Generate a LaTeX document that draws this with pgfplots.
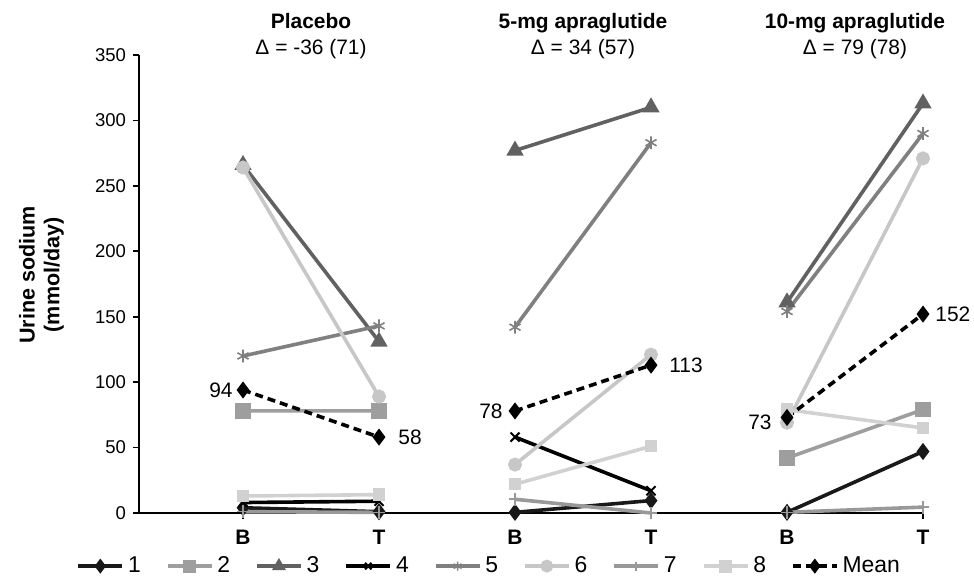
\documentclass[border=0pt]{standalone}
\usepackage{pgfplots}
\pgfplotsset{compat=1.18}
\usepackage{fontspec}
\setmainfont{Liberation Sans}
\definecolor{c1}{gray}{0.1}
\definecolor{c2}{gray}{0.62}
\definecolor{c3}{gray}{0.38}
\definecolor{c4}{gray}{0.0}
\definecolor{c5}{gray}{0.5}
\definecolor{c6}{gray}{0.78}
\definecolor{c7}{gray}{0.6}
\definecolor{c8}{gray}{0.82}
\begin{document}
\begin{tikzpicture}
\path[use as bounding box] (-69.5bp,-33bp) rectangle (417.5bp,256.5bp);
\begin{axis}[
  at={(0,0)}, anchor=south west,
  scale only axis, width=392bp, height=229bp,
  xmin=-0.765, xmax=5, ymin=0, ymax=350,
  axis x line*=bottom, axis y line*=left,
  axis line style={line width=1.2bp},
  xtick={0,...,5}, xticklabels={B,T,B,T,B,T},
  xticklabel style={font=\bfseries\fontsize{10.5}{12}\selectfont, yshift=-2bp},
  ytick={0,50,...,350},
  yticklabel style={font=\fontsize{9.3}{11}\selectfont},
  /pgf/number format/assume math mode=true,
  tick align=outside, major tick length=3bp,
  tick style={line width=0.8bp, black},
  clip=false, unbounded coords=jump,
  every axis plot/.append style={line width=1.8bp},
  ylabel={Urine sodium\\(mmol/day)},
  every axis y label/.style={at={(axis description cs:-0.1245,0.52)}, rotate=90, anchor=center, align=center, font=\bfseries\fontsize{10.8}{12.5}\selectfont},
  legend columns=9,
  legend style={at={(axis description cs:0.448,-0.116)}, anchor=center, draw=none, fill=none,
    font=\fontsize{11.5}{13}\selectfont,
    /tikz/every even column/.append style={column sep=10.5bp}},
  legend image code/.code={\draw[mark repeat=2,mark phase=2,#1,mark size=2.3bp] plot coordinates {(0bp,0bp)(11bp,0bp)(22bp,0bp)};},
]
\addplot[c1, mark=diamond*, mark size=2.8bp] coordinates {(0,4)(1,1)(1.5,nan)(2,0.5)(3,9.5)(3.5,nan)(4,0.5)(5,47)};
\addlegendentry{1}
\addplot[c2, mark=square*, mark size=3bp] coordinates {(0,78)(1,78)(3.5,nan)(4,42)(5,79)};
\addlegendentry{2}
\addplot[c3, mark=triangle*, mark size=3.2bp] coordinates {(0,266)(1,131)(1.5,nan)(2,277)(3,310)(3.5,nan)(4,161)(5,313)};
\addlegendentry{3}
\addplot[c4, mark=x, mark size=3.2bp, mark options={line width=1bp}] coordinates {(0,8)(1,9)(1.5,nan)(2,58)(3,17)};
\addlegendentry{4}
\addplot[c5, mark=asterisk, mark size=3.2bp, mark options={line width=0.8bp}] coordinates {(0,120)(1,143)(1.5,nan)(2,142)(3,283)(3.5,nan)(4,154)(5,290)};
\addlegendentry{5}
\addplot[c6, mark=*, mark size=2.6bp] coordinates {(0,264)(1,89)(1.5,nan)(2,37)(3,121)(3.5,nan)(4,69)(5,271)};
\addlegendentry{6}
\addplot[c7, mark=+, mark size=3.2bp, mark options={line width=0.8bp}] coordinates {(0,1)(1,0.5)(1.5,nan)(2,10.5)(3,0)(3.5,nan)(4,0.5)(5,4.5)};
\addlegendentry{7}
\addplot[c8, mark=square*, mark size=2.2bp] coordinates {(0,13)(1,14)(1.5,nan)(2,22)(3,51)(3.5,nan)(4,79)(5,65)};
\addlegendentry{8}
\addplot[black, dashed, dash pattern=on 4bp off 2.5bp, mark=diamond*, mark size=2.8bp, mark options={solid}] coordinates {(0,94)(1,58)(1.5,nan)(2,78)(3,113)(3.5,nan)(4,73)(5,152)};
\addlegendentry{Mean}
% mean labels
\node[anchor=east, inner sep=0pt, xshift=-5bp, font=\fontsize{10.5}{12}\selectfont] at (axis cs:0,94) {94};
\node[anchor=west, inner sep=0pt, xshift=9.5bp, font=\fontsize{10.5}{12}\selectfont] at (axis cs:1,58) {58};
\node[anchor=east, inner sep=0pt, xshift=-6bp, font=\fontsize{10.5}{12}\selectfont] at (axis cs:2,78) {78};
\node[anchor=west, inner sep=0pt, xshift=9bp, font=\fontsize{10.5}{12}\selectfont] at (axis cs:3,113) {113};
\node[anchor=east, inner sep=0pt, xshift=-7.5bp, yshift=-2.5bp, font=\fontsize{10.5}{12}\selectfont] at (axis cs:4,73) {73};
\node[anchor=west, inner sep=0pt, xshift=6bp, font=\fontsize{10.5}{12}\selectfont] at (axis cs:5,152) {152};
% panel titles
\node[anchor=base, inner sep=0pt, font=\bfseries\fontsize{10.5}{12}\selectfont] at (axis cs:0.5,370.4) {Placebo};
\node[anchor=base, inner sep=0pt, font=\fontsize{10.5}{12}\selectfont] at (axis cs:0.5,350.5) {Δ = -36 (71)};
\node[anchor=base, inner sep=0pt, font=\bfseries\fontsize{10.5}{12}\selectfont] at (axis cs:2.5,370.4) {5-mg apraglutide};
\node[anchor=base, inner sep=0pt, font=\fontsize{10.5}{12}\selectfont] at (axis cs:2.5,350.5) {Δ = 34 (57)};
\node[anchor=base, inner sep=0pt, font=\bfseries\fontsize{10.5}{12}\selectfont] at (axis cs:4.5,370.4) {10-mg apraglutide};
\node[anchor=base, inner sep=0pt, font=\fontsize{10.5}{12}\selectfont] at (axis cs:4.5,350.5) {Δ = 79 (78)};
\end{axis}
\end{tikzpicture}
\end{document}
